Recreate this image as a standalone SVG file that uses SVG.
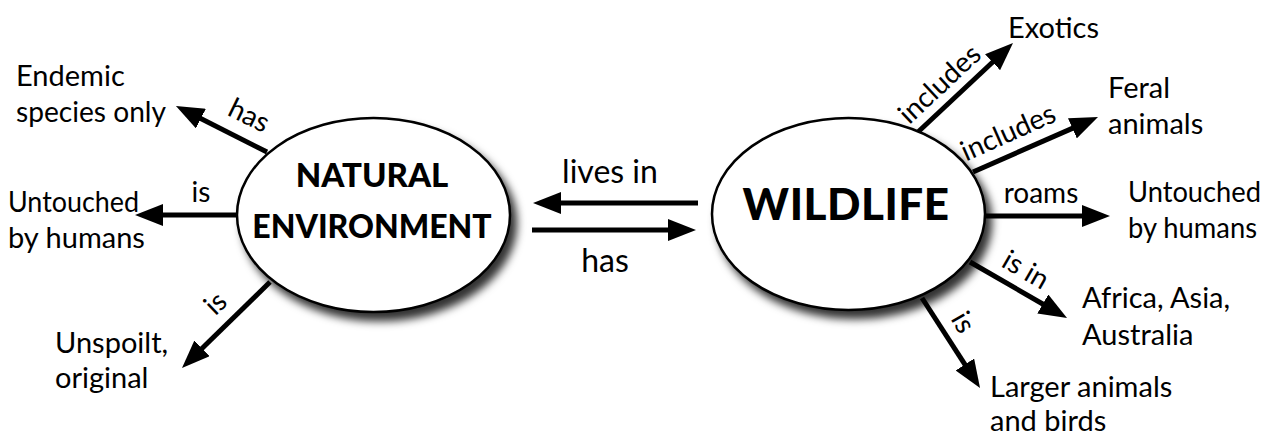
<svg xmlns="http://www.w3.org/2000/svg" width="1272" height="437" viewBox="0 0 1272 437">
<style>
  .t { font-family: Lato, "Open Sans", "Liberation Sans", sans-serif; font-size: 29px; fill: #000; }
  .lbl { font-family: Lato, "Open Sans", "Liberation Sans", sans-serif; font-size: 28px; fill: #000; }
  .mid { font-family: Lato, "Open Sans", "Liberation Sans", sans-serif; font-size: 32px; fill: #000; }
  .b { font-family: Lato, "Open Sans", "Liberation Sans", sans-serif; font-weight: 900; fill: #000; text-anchor: middle; }
  .c { stroke: #000; stroke-width: 5; fill: none; marker-end: url(#ah); }
  .node { fill: #fff; stroke: #000; stroke-width: 2.5; filter: url(#sh); }
</style>
<defs>
  <marker id="ah" markerUnits="userSpaceOnUse" viewBox="0 0 28 22" markerWidth="28" markerHeight="22" refX="8" refY="11" orient="auto">
    <path d="M0,0 L28,11 L0,22 Z" fill="#000"/>
  </marker>
  <filter id="sh" x="-20%" y="-20%" width="150%" height="150%">
    <feDropShadow dx="6" dy="8" stdDeviation="4.5" flood-color="#000" flood-opacity="0.8"/>
  </filter>
</defs>
<rect width="1272" height="437" fill="#fff"/>
<g id="connectors">
  <line class="c" x1="267" y1="152" x2="193.8" y2="115"/>
  <line class="c" x1="240" y1="215" x2="155" y2="215"/>
  <line class="c" x1="270" y1="282" x2="196.3" y2="354"/>
  <line class="c" x1="698" y1="203" x2="553" y2="203"/>
  <line class="c" x1="532" y1="230" x2="676" y2="230"/>
  <line class="c" x1="918" y1="132" x2="998.4" y2="56.7"/>
  <line class="c" x1="973" y1="172" x2="1079.7" y2="125.1"/>
  <line class="c" x1="984" y1="216" x2="1090" y2="216"/>
  <line class="c" x1="970" y1="262" x2="1049.7" y2="308"/>
  <line class="c" x1="922" y1="298" x2="969.2" y2="371.2"/>
  <text class="lbl" text-anchor="middle" transform="translate(245,124) rotate(26)">has</text>
  <text class="lbl" text-anchor="middle" x="201" y="202">is</text>
  <text class="lbl" text-anchor="middle" transform="translate(222,310) rotate(-44)">is</text>
  <text class="mid" text-anchor="middle" x="610" y="183">lives in</text>
  <text class="mid" text-anchor="middle" x="605" y="272">has</text>
  <text class="lbl" text-anchor="middle" transform="translate(946,91) rotate(-43)">includes</text>
  <text class="lbl" text-anchor="middle" transform="translate(1012,141) rotate(-24)">includes</text>
  <text class="lbl" text-anchor="middle" x="1041" y="203">roams</text>
  <text class="lbl" text-anchor="middle" transform="translate(1021,278) rotate(30)">is in</text>
  <text class="lbl" text-anchor="middle" transform="translate(955,327) rotate(60)">is</text>
</g>
<g id="natural-environment">
  <ellipse class="node" cx="373.5" cy="215" rx="136.5" ry="97"/>
  <text class="b" x="372" y="187" font-size="33">NATURAL</text>
  <text class="b" x="372" y="238" font-size="32">ENVIRONMENT</text>
</g>
<g id="wildlife">
  <ellipse class="node" cx="848.5" cy="214" rx="136.5" ry="96"/>
  <text class="b" x="846" y="220" font-size="44" letter-spacing="0.5">WILDLIFE</text>
</g>
<g id="endemic"><text class="t" x="16" y="86">Endemic</text><text class="t" x="16" y="122" textLength="150" lengthAdjust="spacingAndGlyphs">species only</text></g>
<g id="untouched-left"><text class="t" x="8" y="212" textLength="131" lengthAdjust="spacingAndGlyphs">Untouched</text><text class="t" x="8" y="248">by humans</text></g>
<g id="unspoilt"><text class="t" x="55" y="353">Unspoilt,</text><text class="t" x="55" y="388">original</text></g>
<g id="exotics"><text class="t" x="1008" y="38">Exotics</text></g>
<g id="feral"><text class="t" x="1108" y="98">Feral</text><text class="t" x="1108" y="134">animals</text></g>
<g id="untouched-right"><text class="t" x="1128" y="202" textLength="133" lengthAdjust="spacingAndGlyphs">Untouched</text><text class="t" x="1128" y="238" textLength="129" lengthAdjust="spacingAndGlyphs">by humans</text></g>
<g id="africa"><text class="t" x="1082" y="308">Africa, Asia,</text><text class="t" x="1082" y="345">Australia</text></g>
<g id="larger"><text class="t" x="990" y="397">Larger animals</text><text class="t" x="990" y="431">and birds</text></g>
</svg>
